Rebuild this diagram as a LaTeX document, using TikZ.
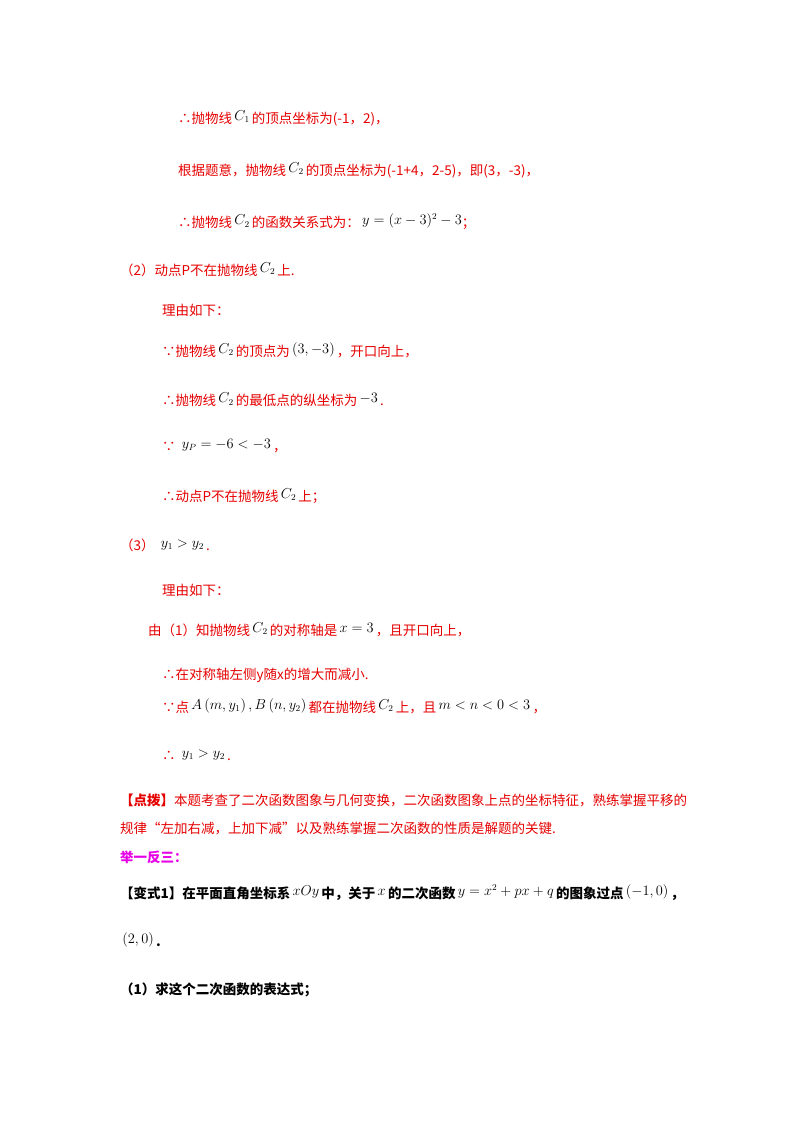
\documentclass[tikz,border=0pt]{standalone}
\usepackage{fontspec}
\setmainfont{Liberation Serif}
\newfontfamily\cjk{Noto Sans CJK SC}
\definecolor{rd}{RGB}{230,0,0}
\definecolor{mg}{RGB}{230,0,230}
\tikzset{ln/.style={anchor=west,inner sep=0pt,font=\cjk\fontsize{13.5}{16}\selectfont,text=rd},
blk/.style={ln,text=black,font=\cjk\bfseries\fontsize{13.5}{16}\selectfont}}
\newcommand{\mm}[1]{\textcolor{black}{\,\raisebox{3pt}{$\fontsize{14}{16}\selectfont #1$}\,}}
\newcommand{\ms}[1]{\textcolor{black}{\,\raisebox{3pt}{$\fontsize{10}{12}\selectfont #1$}}}
\begin{document}
\begin{tikzpicture}[x=1pt,y=-1pt]
\useasboundingbox[fill=white] (0,0) rectangle (800,1132);
\node[ln] (l1) at (178,118) {∴抛物线\mm{C_1}的顶点坐标为(-1，2)，};
\node[ln] (l2) at (178,170) {根据题意，抛物线\mm{C_2}的顶点坐标为(-1+4，2-5)，即(3，-3)，};
\node[ln] (l3) at (178,222) {∴抛物线\mm{C_2}的函数关系式为：\ms{y=(x-3)^2-3}；};
\node[ln] (l4) at (120,270) {（2）动点P不在抛物线\mm{C_2}上.};
\node[ln] (l5) at (162,310) {理由如下：};
\node[ln] (l6) at (162,350) {∵抛物线\mm{C_2}的顶点为\mm{\left(3,-3\right)}，开口向上，};
\node[ln] (l7) at (162,400) {∴抛物线\mm{C_2}的最低点的纵坐标为\mm{-3}.};
\node[ln] (l8) at (162,446) {∵\mm{\;y_P=-6<-3}，};
\node[ln] (l9) at (162,496) {∴动点P不在抛物线\mm{C_2}上；};
\node[ln] (l10) at (120,545) {（3）\mm{\;y_1>y_2}.};
\node[ln] (l11) at (162,590) {理由如下：};
\node[ln] (l12) at (148,630) {由（1）知抛物线\mm{C_2}的对称轴是\mm{x=3}，且开口向上，};
\node[ln] (l13) at (162,675) {∴在对称轴左侧y随x的增大而减小.};
\node[ln] (l14) at (162,706) {∵点\mm{A\left(m,y_1\right),B\left(n,y_2\right)}都在抛物线\mm{C_2}上，且\mm{m<n<0<3}，};
\node[ln] (l15) at (162,755) {∴\mm{\;y_1>y_2}.};
\node[ln] (l16) at (120,800) {\textbf{【点拨】}本题考查了二次函数图象与几何变换，二次函数图象上点的坐标特征，熟练掌握平移的};
\node[ln] (l17) at (120,828) {规律“左加右减，上加下减”以及熟练掌握二次函数的性质是解题的关键.};
\node[ln,text=mg,font=\cjk\bfseries\fontsize{13.5}{16}\selectfont] (l18) at (120,857) {举一反三：};
\node[blk] (l19) at (120,893) {【变式1】在平面直角坐标系\mm{xOy}中，关于\mm{x}的二次函数\mm{y=x^2+px+q}的图象过点\mm{\left(-1,0\right)}，};
\node[blk] (l20) at (120,940) {\mm{(2,0)}.};
\node[blk] (l21) at (120,990) {（1）求这个二次函数的表达式；};
\end{tikzpicture}
\end{document}
